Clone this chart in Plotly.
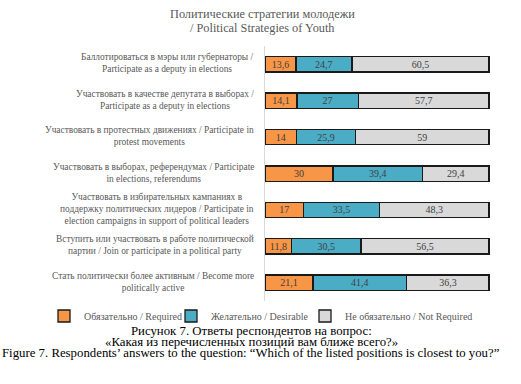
import plotly.graph_objects as go

categories = [
    "Баллотироваться в мэры или губернаторы /<br>Participate as a deputy in elections",
    "Участвовать в качестве депутата в выборах /<br>Participate as a deputy in elections",
    "Участвовать в протестных движениях / Participate in<br>protest movements",
    "Участвовать в выборах, референдумах / Participate<br>in elections, referendums",
    "Участвовать в избирательных кампаниях в<br>поддержку политических лидеров / Participate in<br>election campaigns in support of political leaders",
    "Вступить или участвовать в работе политической<br>партии / Join or participate in a political party",
    "Стать политически более активным / Become more<br>politically active",
]
required = [13.6, 14.1, 14, 30, 17, 11.8, 21.1]
desirable = [24.7, 27, 25.9, 39.4, 33.5, 30.5, 41.4]
not_required = [60.5, 57.7, 59, 29.4, 48.3, 56.5, 36.3]
series_names = ["Обязательно / Required", "Желательно / Desirable", "Не обязательно / Not Required"]
colors = ["#F79646", "#4BACC6", "#D9D9D9"]
title_lines = ["Политические стратегии молодежи", "/ Political Strategies of Youth"]
captions = [
    "Рисунок 7. Ответы респондентов на вопрос:",
    "«Какая из перечисленных позиций вам ближе всего?»",
    "Figure 7. Respondents’ answers to the question: “Which of the listed positions is closest to you?”",
]

ids = list(range(len(categories)))
FONT = "Liberation Serif"
L, R, T, B = 265, 31, 46, 83
PW, PH = 521 - L - R, 384 - T - B

def px2x(px):
    return (px - L) / PW

def py2y(py):
    return (384 - B - py) / PH

def fmt(v):
    return str(v).replace(".", ",")

legend_widths = [82, 89, 0]

fig = go.Figure()
for name, vals, col, lw in zip(series_names, [required, desirable, not_required], colors, legend_widths):
    fig.add_trace(go.Bar(
        y=ids, x=vals, name=name, orientation="h",
        marker=dict(color=col, line=dict(color="#1a1a1a", width=1.3)),
        text=[fmt(v) for v in vals], textposition="inside", insidetextanchor="middle",
        textangle=0, textfont=dict(family=FONT, size=10, color="#404040"),
        width=0.42,
        legendwidth=lw if lw else None,
    ))

for i, c in enumerate(categories):
    fig.add_annotation(x=px2x(256), xref="paper", y=i, yref="y", yshift=1, text=c,
                       showarrow=False, xanchor="right", yanchor="middle", align="center",
                       font=dict(family=FONT, size=9.4, color="#595959"))

for t, py in zip(title_lines, [14, 28]):
    fig.add_annotation(x=px2x(262), xref="paper", y=py2y(py), yref="paper",
                       text=t, showarrow=False, xanchor="center", yanchor="middle",
                       font=dict(family=FONT, size=12.3, color="#595959"))

cap_y = [331, 342, 353]
for t, py in zip(captions, cap_y):
    fig.add_annotation(x=px2x(251), xref="paper", y=py2y(py), yref="paper",
                       text=t, showarrow=False, xanchor="center", yanchor="middle",
                       font=dict(family=FONT, size=12.8, color="#000000"))

fig.update_layout(
    width=521, height=384,
    margin=dict(l=L, r=R, t=T, b=B),
    barmode="stack", barnorm="percent",
    paper_bgcolor="white", plot_bgcolor="white",
    xaxis=dict(range=[0, 100.4], visible=False),
    yaxis=dict(range=[len(categories) - 0.5, -0.5], showticklabels=False, showgrid=False,
               zeroline=False, showline=True, linecolor="#D9D9D9", linewidth=1, ticks=""),
    legend=dict(orientation="h", x=px2x(44), xanchor="left", y=py2y(316), yanchor="middle",
                traceorder="normal",
                font=dict(family=FONT, size=10, color="#595959"),
                itemwidth=30),
    showlegend=True,
    uniformtext=dict(minsize=10, mode="show"),
)
fig.write_html("out.html", config={"displayModeBar": False},
               post_script="document.body.style.margin='0';")
